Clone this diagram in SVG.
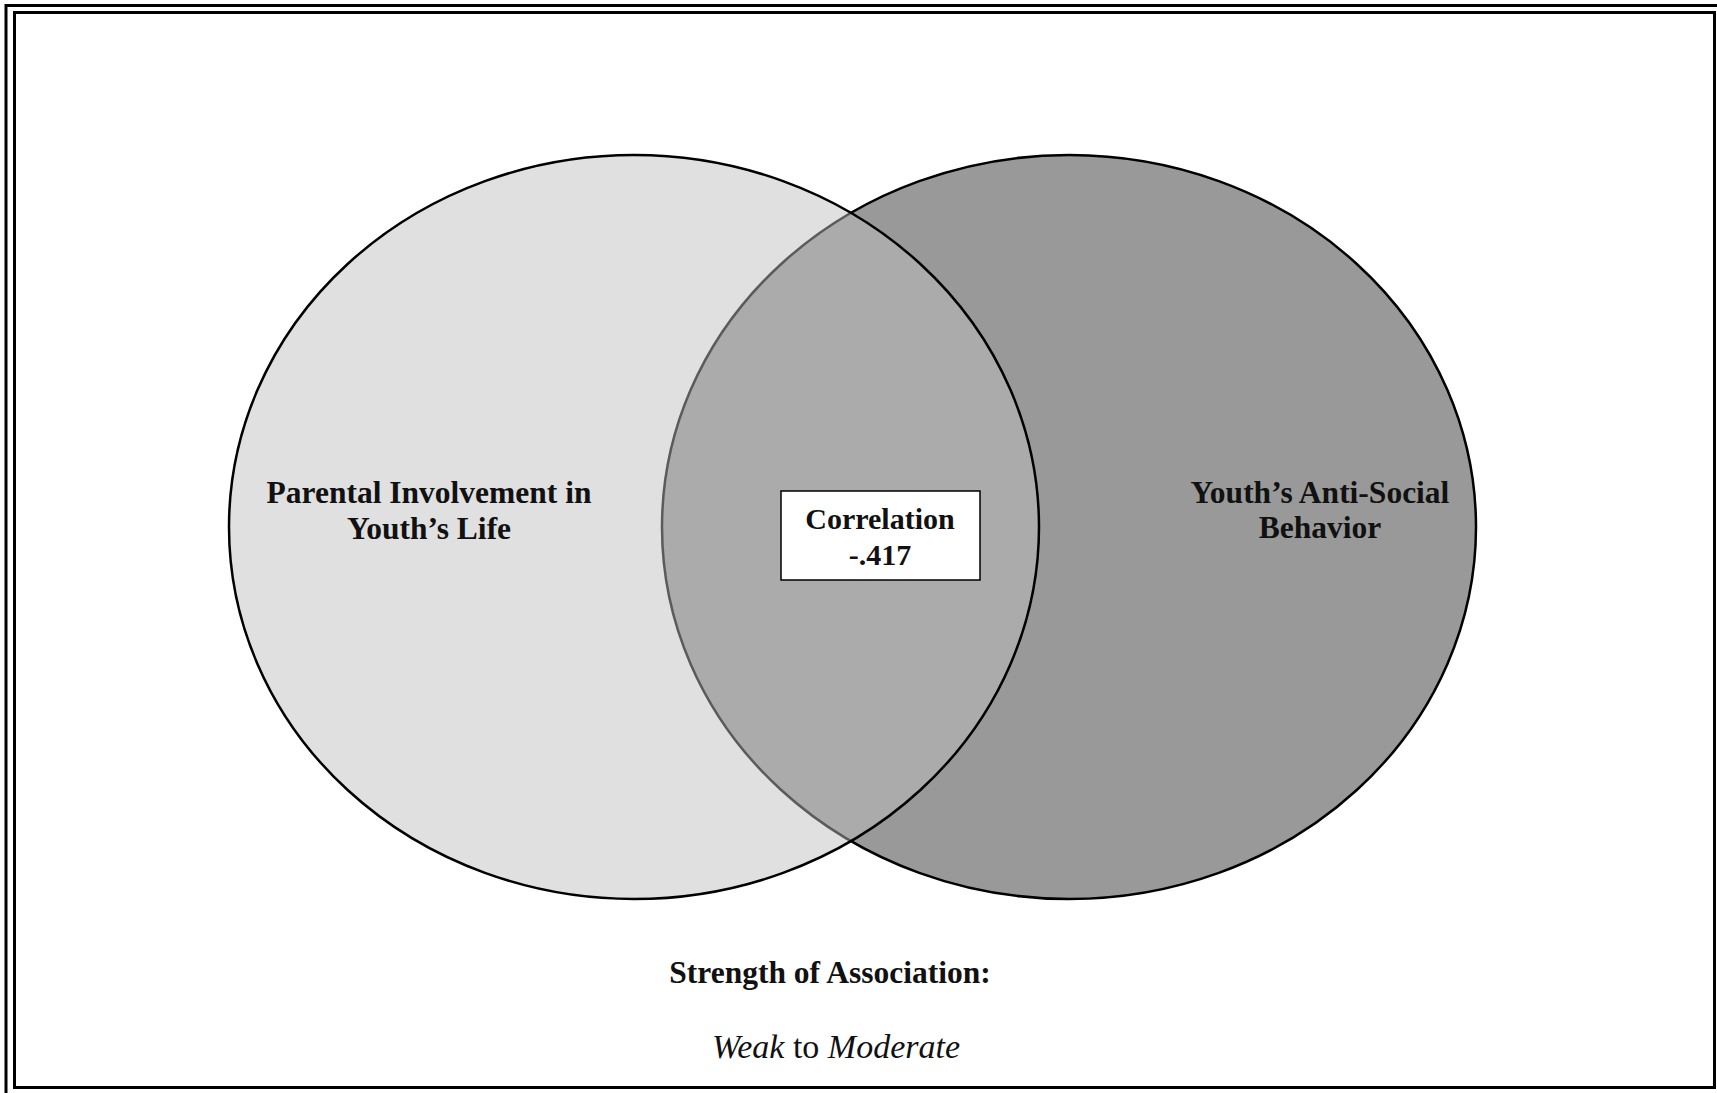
<svg xmlns="http://www.w3.org/2000/svg" width="1717" height="1093" viewBox="0 0 1717 1093">
  <style>
    .frame { fill: none; stroke: #000; stroke-width: 3; }
    .ring { stroke: #000; stroke-width: 2.5; }
    .lbl { font-family: "Liberation Serif", "DejaVu Serif", serif; font-size: 31.5px; font-weight: bold; fill: #111; text-anchor: middle; }
    .box { font-size: 30px; }
    .note { font-family: "Liberation Serif", "DejaVu Serif", serif; font-size: 34px; fill: #111; text-anchor: middle; }
  </style>
  <rect width="1717" height="1093" fill="#fff"/>
  <!-- double page frame -->
  <g id="frame">
    <rect class="frame" x="6" y="5.5" width="1730" height="1110"/>
    <rect class="frame" x="14.5" y="12.5" width="1700" height="1075"/>
  </g>
  <!-- right set drawn first, left set overlays it with a translucent fill -->
  <g id="youth-antisocial">
    <ellipse class="ring" cx="1069" cy="527" rx="407" ry="372" fill="#999999"/>
    <text class="lbl" x="1320" y="503">Youth’s Anti-Social</text>
    <text class="lbl" x="1320" y="538">Behavior</text>
  </g>
  <g id="parental-involvement">
    <ellipse class="ring" cx="634" cy="527" rx="405" ry="372" fill="#bebebe" fill-opacity="0.48"/>
    <text class="lbl" x="429" y="503">Parental Involvement in</text>
    <text class="lbl" x="429" y="539">Youth’s Life</text>
  </g>
  <g id="correlation">
    <rect x="781" y="491" width="199" height="89" fill="#fff" stroke="#000" stroke-width="1.5"/>
    <text class="lbl box" x="880" y="529">Correlation</text>
    <text class="lbl box" x="880" y="565">-.417</text>
  </g>
  <g id="connectors"/>
  <g id="strength">
    <text class="lbl" x="830" y="983">Strength of Association:</text>
    <text class="note" x="836" y="1058"><tspan font-style="italic">Weak</tspan> to <tspan font-style="italic">Moderate</tspan></text>
  </g>
</svg>
